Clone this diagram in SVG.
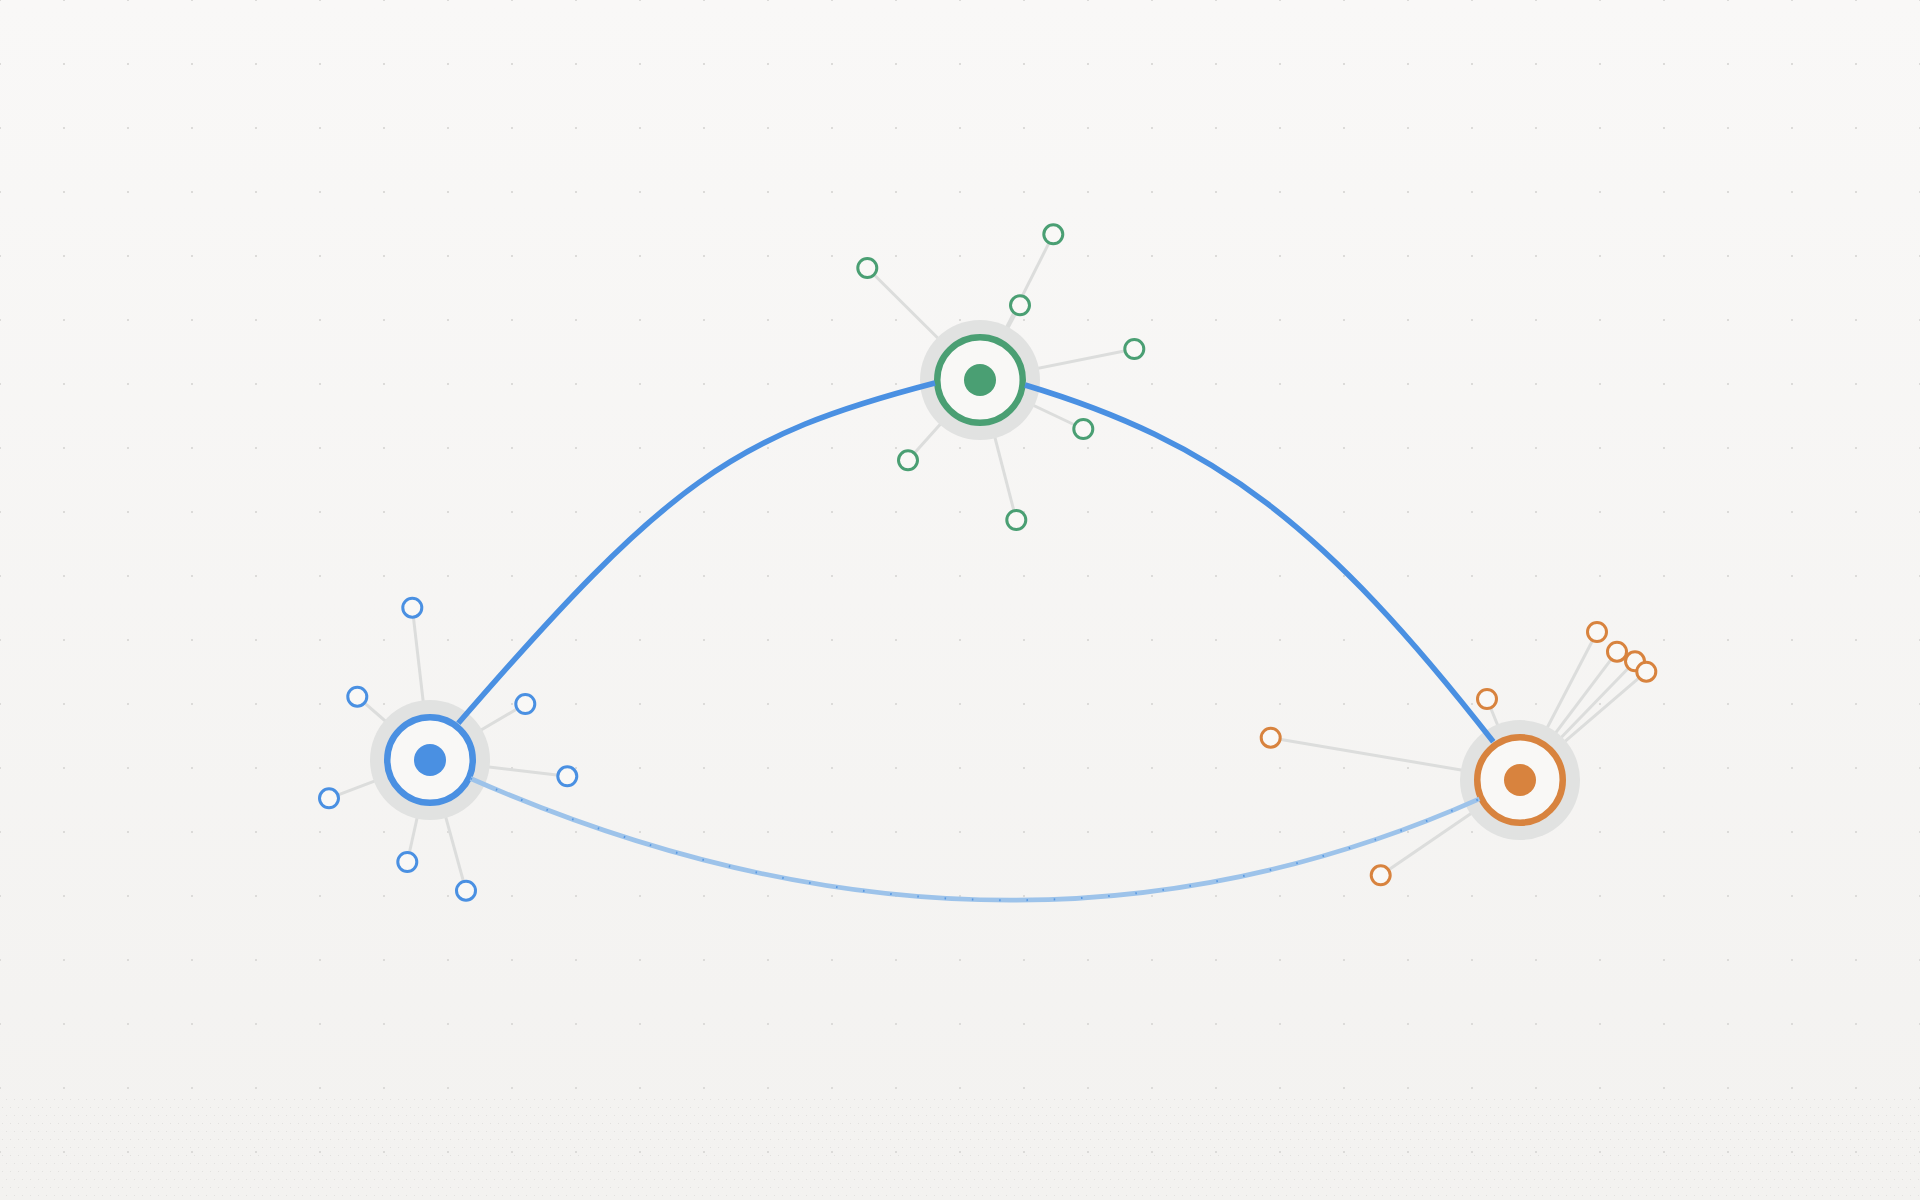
<svg xmlns="http://www.w3.org/2000/svg" width="1920" height="1200" viewBox="0 0 1920 1200">
  <style>
    .spoke { stroke: #dcdddc; stroke-width: 3; fill: none; }
    .halo { fill: #e1e2e1; }
    .ring { fill: #f9f8f6; stroke-width: 6.5; }
    .sat { fill: #f9f8f6; stroke-width: 3; }
    .blue .ring, .blue .sat { stroke: #4a90e2; }
    .blue .core { fill: #4a90e2; }
    .green .ring, .green .sat { stroke: #4a9f73; }
    .green .core { fill: #4a9f73; }
    .orange .ring, .orange .sat { stroke: #d8833e; }
    .orange .core { fill: #d8833e; }
    .edge-main { fill: none; stroke: #4a90e2; stroke-width: 5.5; }
    .edge-soft { fill: none; stroke: #9dc3ea; stroke-width: 4.7; }
    .edge-ticks { fill: none; stroke: #4a90e2; stroke-width: 2; stroke-dasharray: 1.5 25.8; opacity: 0.85; }
  </style>
  <defs>
    <linearGradient id="bg" x1="0" y1="0" x2="0" y2="1">
      <stop offset="0" stop-color="#f9f8f7"/>
      <stop offset="1" stop-color="#f3f2f0"/>
    </linearGradient>
    <pattern id="grid" x="-32" y="-32" width="64" height="64" patternUnits="userSpaceOnUse">
      <rect x="31" y="31" width="2" height="2" fill="#dcdbd9"/>
    </pattern>
    <pattern id="stipple" x="0" y="0" width="16" height="16" patternUnits="userSpaceOnUse">
      <rect x="2" y="3" width="1" height="1" fill="#e2e1df"/>
      <rect x="10" y="3" width="1" height="1" fill="#e2e1df"/>
      <rect x="6" y="11" width="1" height="1" fill="#e2e1df"/>
      <rect x="14" y="11" width="1" height="1" fill="#e2e1df"/>
    </pattern>
  </defs>

  <rect width="1920" height="1200" fill="url(#bg)"/>
  <rect y="1096" width="1920" height="104" fill="url(#stipple)"/>
  <rect width="1920" height="1200" fill="url(#grid)"/>

  <g id="node-blue" class="blue">
    <line class="spoke" x1="430" y1="760" x2="412.3" y2="607.7"/>
    <line class="spoke" x1="430" y1="760" x2="357.3" y2="696.7"/>
    <line class="spoke" x1="430" y1="760" x2="525.3" y2="704"/>
    <line class="spoke" x1="430" y1="760" x2="567.3" y2="776.3"/>
    <line class="spoke" x1="430" y1="760" x2="329" y2="798.3"/>
    <line class="spoke" x1="430" y1="760" x2="407.3" y2="862"/>
    <line class="spoke" x1="430" y1="760" x2="466" y2="890.7"/>
    <circle class="halo" cx="430" cy="760" r="60"/>
    <circle class="ring" cx="430" cy="760" r="42.75"/>
    <circle class="core" cx="430" cy="760" r="16"/>
    <circle class="sat" cx="412.3" cy="607.7" r="9.5"/>
    <circle class="sat" cx="357.3" cy="696.7" r="9.5"/>
    <circle class="sat" cx="525.3" cy="704" r="9.5"/>
    <circle class="sat" cx="567.3" cy="776.3" r="9.5"/>
    <circle class="sat" cx="329" cy="798.3" r="9.5"/>
    <circle class="sat" cx="407.3" cy="862" r="9.5"/>
    <circle class="sat" cx="466" cy="890.7" r="9.5"/>
  </g>

  <g id="node-green" class="green">
    <line class="spoke" x1="980" y1="380" x2="867.3" y2="268"/>
    <line class="spoke" x1="980" y1="380" x2="1053.3" y2="234.3"/>
    <line class="spoke" x1="980" y1="380" x2="1020" y2="305.3"/>
    <line class="spoke" x1="980" y1="380" x2="1134.3" y2="349"/>
    <line class="spoke" x1="980" y1="380" x2="1083.3" y2="429"/>
    <line class="spoke" x1="980" y1="380" x2="908" y2="460.3"/>
    <line class="spoke" x1="980" y1="380" x2="1016.3" y2="520"/>
    <circle class="halo" cx="980" cy="380" r="60"/>
    <circle class="ring" cx="980" cy="380" r="42.75"/>
    <circle class="core" cx="980" cy="380" r="16"/>
    <circle class="sat" cx="867.3" cy="268" r="9.5"/>
    <circle class="sat" cx="1053.3" cy="234.3" r="9.5"/>
    <circle class="sat" cx="1020" cy="305.3" r="9.5"/>
    <circle class="sat" cx="1134.3" cy="349" r="9.5"/>
    <circle class="sat" cx="1083.3" cy="429" r="9.5"/>
    <circle class="sat" cx="908" cy="460.3" r="9.5"/>
    <circle class="sat" cx="1016.3" cy="520" r="9.5"/>
  </g>

  <g id="node-orange" class="orange">
    <line class="spoke" x1="1520" y1="780" x2="1597" y2="632"/>
    <line class="spoke" x1="1520" y1="780" x2="1617" y2="651.7"/>
    <line class="spoke" x1="1520" y1="780" x2="1635" y2="661.3"/>
    <line class="spoke" x1="1520" y1="780" x2="1646.3" y2="671.7"/>
    <line class="spoke" x1="1520" y1="780" x2="1487" y2="699"/>
    <line class="spoke" x1="1520" y1="780" x2="1270.7" y2="737.7"/>
    <line class="spoke" x1="1520" y1="780" x2="1380.7" y2="875.3"/>
    <circle class="halo" cx="1520" cy="780" r="60"/>
    <circle class="ring" cx="1520" cy="780" r="42.75"/>
    <circle class="core" cx="1520" cy="780" r="16"/>
    <circle class="sat" cx="1597" cy="632" r="9.5"/>
    <circle class="sat" cx="1617" cy="651.7" r="9.5"/>
    <circle class="sat" cx="1635" cy="661.3" r="9.5"/>
    <circle class="sat" cx="1646.3" cy="671.7" r="9.5"/>
    <circle class="sat" cx="1487" cy="699" r="9.5"/>
    <circle class="sat" cx="1270.7" cy="737.7" r="9.5"/>
    <circle class="sat" cx="1380.7" cy="875.3" r="9.5"/>
  </g>

  <g id="connectors">
    <path id="edge-blue-green" class="edge-main" d="M458.3,723.3 C667.9,481.4 732.7,435.5 935,383"/>
    <path id="edge-green-orange" class="edge-main" d="M1025,385 C1215.6,442.3 1323.3,524.2 1493.3,741.7"/>
    <path id="edge-blue-orange" class="edge-soft" d="M470.6,778.5 Q1000.8,1011.3 1479.4,798.9"/>
    <path class="edge-ticks" d="M470.6,778.5 Q1000.8,1011.3 1479.4,798.9"/>
  </g>
</svg>
